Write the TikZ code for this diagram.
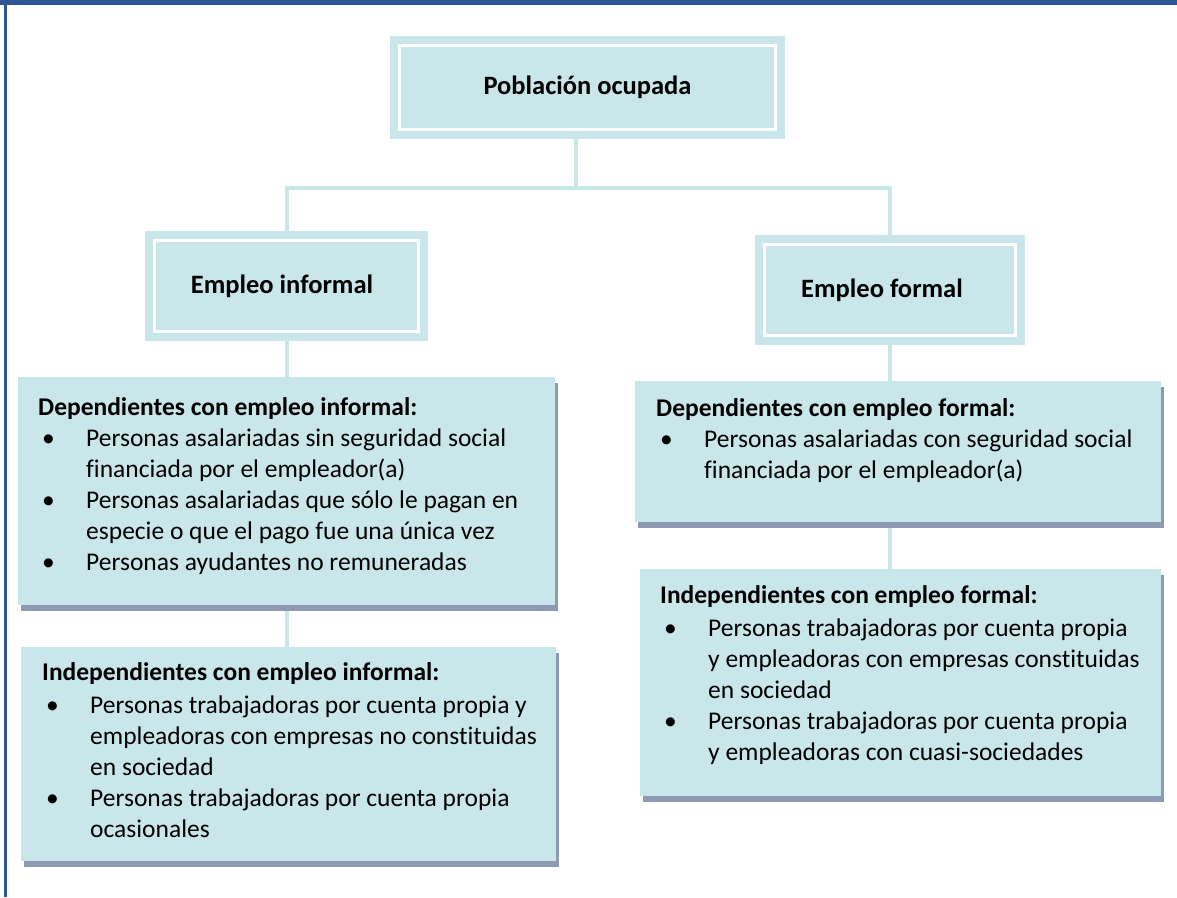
\documentclass[tikz,border=0pt]{standalone}
\usepackage{fontspec}
\setmainfont{Carlito}[Ligatures={NoCommon,NoContextual}]
\usetikzlibrary{positioning,backgrounds,shadows}

\definecolor{cajaazul}{RGB}{201,230,234}
\definecolor{sombra}{RGB}{142,154,178}
\definecolor{marco}{RGB}{46,85,151}

% bullet lines inside the lower boxes
\newcommand{\punto}[1]{\makebox[48pt][l]{\hspace{4pt}\textbullet}\mbox{#1}}
\newcommand{\sigue}[1]{\hspace*{48pt}\mbox{#1}}
\newcommand{\bloque}[3]{\parbox[c][#1][t]{#2}{\raggedright #3}}

\tikzset{
  titulo/.style={fill=cajaazul, draw=cajaazul, line width=8pt, double=white,
    double distance=3pt, inner sep=0pt, font=\fontsize{26.5}{31}\selectfont\bfseries},
  lista/.style={fill=cajaazul, anchor=north west, inner xsep=20pt,
    font=\fontsize{25.5}{31}\selectfont,
    drop shadow={shadow xshift=3pt, shadow yshift=-6pt, fill=sombra, opacity=1}},
  conector/.style={draw=cajaazul, line width=4pt}
}

\begin{document}
\begin{tikzpicture}[x=1pt,y=-1pt]
  \useasboundingbox (0,0) rectangle (1177,897);
  \fill[marco] (0,0) rectangle (1177,5);
  \fill[marco] (4,0) rectangle (7,897);

  \node[titulo, minimum width=376pt, minimum height=84pt] (pob) at (587.5,87.5) {Población ocupada};
  \node[titulo, minimum width=264pt, minimum height=91pt] (inf) at (286.5,286) {Empleo informal\hspace*{9pt}};
  \node[titulo, minimum width=251pt, minimum height=91pt] (for) at (890,290) {Empleo formal\hspace*{16pt}};

  \node[lista, inner ysep=20pt] (depinf) at (18,377) {\bloque{188pt}{497pt}{%
    \textbf{Dependientes con empleo informal:}\\
    \punto{Personas asalariadas sin seguridad social}\\
    \sigue{financiada por el empleador(a)}\\
    \punto{Personas asalariadas que sólo le pagan en}\\
    \sigue{especie o que el pago fue una única vez}\\
    \punto{Personas ayudantes no remuneradas}}};

  \node[lista, inner ysep=15pt, inner xsep=21pt] (indinf) at (21,647) {\bloque{184pt}{493pt}{%
    \textbf{Independientes con empleo informal:}\\[2pt]
    \punto{Personas trabajadoras por cuenta propia y}\\
    \sigue{empleadoras con empresas no constituidas}\\
    \sigue{en sociedad}\\
    \punto{Personas trabajadoras por cuenta propia}\\
    \sigue{ocasionales}}};

  \node[lista, inner ysep=17pt, inner xsep=21pt] (depfor) at (635,381) {\bloque{107pt}{484pt}{%
    \textbf{Dependientes con empleo formal:}\\
    \punto{Personas asalariadas con seguridad social}\\
    \sigue{financiada por el empleador(a)}}};

  \node[lista, inner ysep=16pt] (indfor) at (640,569) {\bloque{195pt}{481pt}{%
    \textbf{Independientes con empleo formal:}\\[2pt]
    \punto{Personas trabajadoras por cuenta propia}\\
    \sigue{y empleadoras con empresas constituidas}\\
    \sigue{en sociedad}\\
    \punto{Personas trabajadoras por cuenta propia}\\
    \sigue{y empleadoras con cuasi-sociedades}}};

  \begin{scope}[on background layer]
    \coordinate (cruce) at (576,188);
    \draw[conector] (pob.south -| cruce) -- (cruce);
    \draw[conector] (inf.north) -- (inf.north |- cruce) -- (for.north |- cruce) -- (for.north);
    \draw[conector] (inf.south) -- (inf.south |- depinf.north);
    \draw[conector] (depinf.south -| inf.south) -- (inf.south |- indinf.north);
    \draw[conector] (for.south) -- (for.south |- depfor.north);
    \draw[conector] (depfor.south -| for.south) -- (for.south |- indfor.north);
  \end{scope}
\end{tikzpicture}
\end{document}
